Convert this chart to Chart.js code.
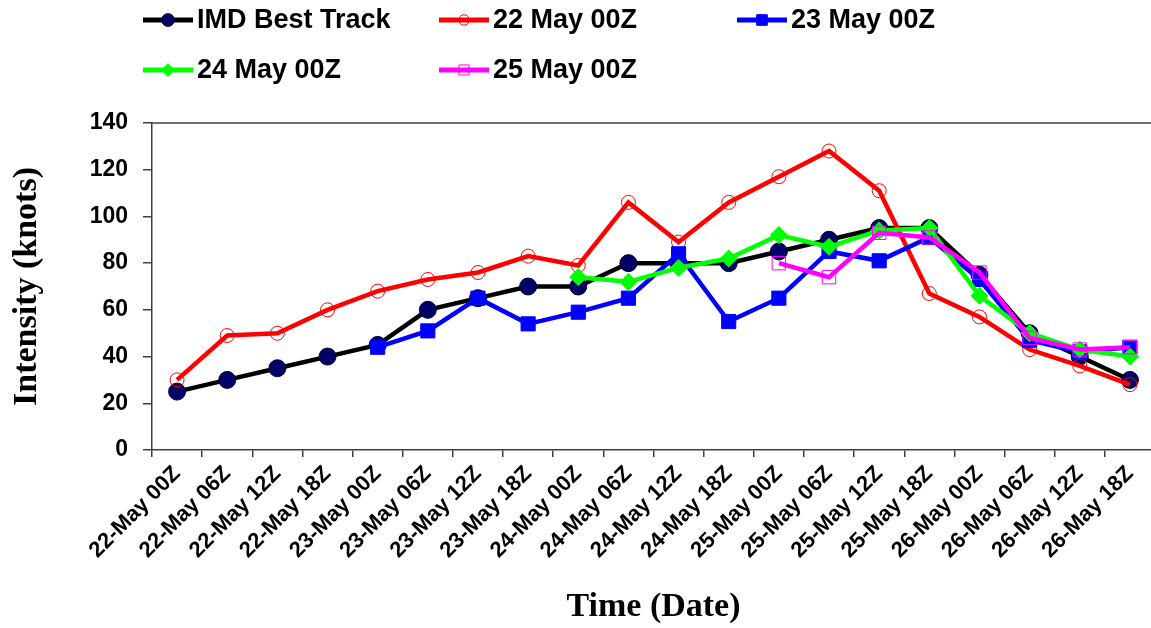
<!DOCTYPE html>
<html>
<head>
<meta charset="utf-8">
<script src="https://cdn.jsdelivr.net/npm/chart.js@4.4.1/dist/chart.umd.min.js"></script>
<style>
  body { margin: 0; background: #fff; }
  #wrap { width: 1151px; height: 628px; }
</style>
</head>
<body>
<div id="wrap"><canvas id="charts" width="1151" height="628"></canvas></div>
<script>
// time steps (6 hourly)
const labels = ['22-May 00Z', '22-May 06Z', '22-May 12Z', '22-May 18Z',
    '23-May 00Z', '23-May 06Z', '23-May 12Z', '23-May 18Z',
    '24-May 00Z', '24-May 06Z', '24-May 12Z', '24-May 18Z',
    '25-May 00Z', '25-May 06Z', '25-May 12Z', '25-May 18Z',
    '26-May 00Z', '26-May 06Z', '26-May 12Z', '26-May 18Z']

// intensity in knots
const imdBestTrack = [25, 30, 35, 40, 45, 60, 65, 70, 70, 80, 80, 80, 85, 90, 95, 95, 75, 50, 40, 30]
const run22May = [30, 49, 50, 60, 68, 73, 76, 83, 79, 106, 89, 106, 117, 128, 111, 67, 57, 43, 36, 28]
const run23May = [null, null, null, null, 44, 51, 65, 54, 59, 65, 84, 55, 65, 85, 81, 91, 73, 47, 42, 44]
const run24May = [null, null, null, null, null, null, null, null, 74, 72, 78, 82, 92, 87, 94, 95, 66, 50, 43, 40]
const run25May = [null, null, null, null, null, null, null, null, null, null, null, null, 80, 74, 93, 91, 76, 48, 43, 44]

const yTicks = [0, 20, 40, 60, 80, 100, 120, 140]

const axisColor = '#404040'

function series(label, data, line, fill, edge, style, radius, order){
    return {
        label: label,
        data: data,
        borderColor: line,
        borderWidth: 4.5,
        pointBackgroundColor: fill,
        pointBorderColor: edge,
        pointBorderWidth: 1,
        pointStyle: style,
        pointRadius: radius,
        pointHoverRadius: radius,
        tension: 0,
        fill: false,
        order: order
    }
}

// draws a marker, used by the legend
function marker(ctx, ds, x, y, r){
    ctx.save()
    ctx.fillStyle = ds.pointBackgroundColor
    ctx.strokeStyle = ds.pointBorderColor
    ctx.lineWidth = 1
    ctx.beginPath()
    if (ds.pointStyle === 'circle'){
        ctx.arc(x, y, r, 0, Math.PI * 2)
    } else if (ds.pointStyle === 'rect'){
        let s = r * Math.SQRT1_2
        ctx.rect(x - s, y - s, 2 * s, 2 * s)
    } else {
        ctx.moveTo(x, y - r)
        ctx.lineTo(x + r, y)
        ctx.lineTo(x, y + r)
        ctx.lineTo(x - r, y)
        ctx.closePath()
    }
    ctx.fill()
    ctx.stroke()
    ctx.restore()
}

const gridLegend = {
    id: 'gridLegend',
    afterDraw(chart){
        const ctx = chart.ctx
        const colX = [143, 439, 737]
        const rowY = [20, 70]
        chart.data.datasets.forEach((ds, i) => {
            let x = colX[i % 3]
            let y = rowY[Math.floor(i / 3)]
            ctx.save()
            ctx.strokeStyle = ds.borderColor
            ctx.lineWidth = 5
            ctx.beginPath()
            ctx.moveTo(x, y)
            ctx.lineTo(x + 50, y)
            ctx.stroke()
            ctx.restore()
            marker(ctx, ds, x + 25, y, ds.pointRadius * 0.75)
            ctx.save()
            ctx.fillStyle = '#000'
            ctx.font = 'bold 27px "Liberation Sans", Arial, sans-serif'
            ctx.textBaseline = 'middle'
            ctx.fillText(ds.label, x + 54, y + 1)
            ctx.restore()
        })
    }
}

// let the plot run to the right edge like the original (clipped there)
const stretchRight = {
    id: 'stretchRight',
    afterLayout(chart){
        const x = chart.scales.x
        const right = 1155
        x.right = right
        x.width = right - x.left
        x.configure()
        chart.chartArea.right = right
        chart.chartArea.width = right - chart.chartArea.left
    }
}

// top edge of the plot area
const plotBorder = {
    id: 'plotBorder',
    beforeDatasetsDraw(chart){
        const {ctx, chartArea} = chart
        ctx.save()
        ctx.strokeStyle = axisColor
        ctx.lineWidth = 1.5
        ctx.beginPath()
        ctx.moveTo(chartArea.left, chartArea.top)
        ctx.lineTo(chartArea.right + 10, chartArea.top)
        ctx.stroke()
        ctx.restore()
    }
}

let ctx = document.getElementById('charts').getContext('2d')
window.chart = new Chart(ctx, {
    type: 'line',
    data: {
        labels: labels,
        datasets: [
            series('IMD Best Track', imdBestTrack, '#000000', '#000066', '#000033', 'circle', 8.5, 4),
            series('22 May 00Z', run22May, '#FF0000', 'rgba(255,255,255,0)', '#FF0000', 'circle', 7, 3),
            series('23 May 00Z', run23May, '#0000FF', '#0000FF', '#0000FF', 'rect', 10, 2),
            series('24 May 00Z', run24May, '#00FF00', '#00FF00', '#00FF00', 'rectRot', 8.5, 1),
            series('25 May 00Z', run25May, '#FF00FF', 'rgba(255,255,255,0)', '#FF00FF', 'rect', 9.5, 0)
        ]
    },
    options: {
        responsive: false,
        devicePixelRatio: 1,
        animation: false,
        layout: {
            padding: {top: 123, right: 0, bottom: 0, left: 0}
        },
        plugins: {
            legend: {display: false},
            tooltip: {enabled: false}
        },
        scales: {
            x: {
                offset: true,
                afterFit(scale){ scale.height = 178 },
                grid: {
                    offset: true,
                    drawOnChartArea: false,
                    drawTicks: true,
                    tickLength: 7,
                    color: axisColor,
                    lineWidth: 1.5
                },
                border: {color: axisColor, width: 1.5},
                ticks: {
                    minRotation: 45,
                    maxRotation: 45,
                    autoSkip: false,
                    padding: 4,
                    color: '#000',
                    font: {family: '"Liberation Sans", Arial, sans-serif', size: 22, weight: 'bold'}
                },
                title: {
                    display: true,
                    text: 'Time (Date)',
                    color: '#000',
                    padding: {top: 0, bottom: 0},
                    font: {family: '"Liberation Serif", "Times New Roman", serif', size: 34, weight: 'bold'}
                }
            },
            y: {
                min: 0,
                max: 140,
                afterFit(scale){ scale.width = 152 },
                afterBuildTicks(scale){ scale.ticks = yTicks.map(v => ({value: v})) },
                grid: {
                    drawOnChartArea: false,
                    drawTicks: true,
                    tickLength: 9,
                    color: axisColor,
                    lineWidth: 1.5
                },
                border: {color: axisColor, width: 1.5},
                ticks: {
                    padding: 15,
                    color: '#000',
                    font: {family: '"Liberation Sans", Arial, sans-serif', size: 23, weight: 'bold'}
                },
                title: {
                    display: true,
                    text: 'Intensity (knots)',
                    color: '#000',
                    padding: {top: 7, bottom: 0},
                    font: {family: '"Liberation Serif", "Times New Roman", serif', size: 34, weight: 'bold'}
                }
            }
        }
    },
    plugins: [stretchRight, gridLegend, plotBorder]
})
</script>
</body>
</html>
